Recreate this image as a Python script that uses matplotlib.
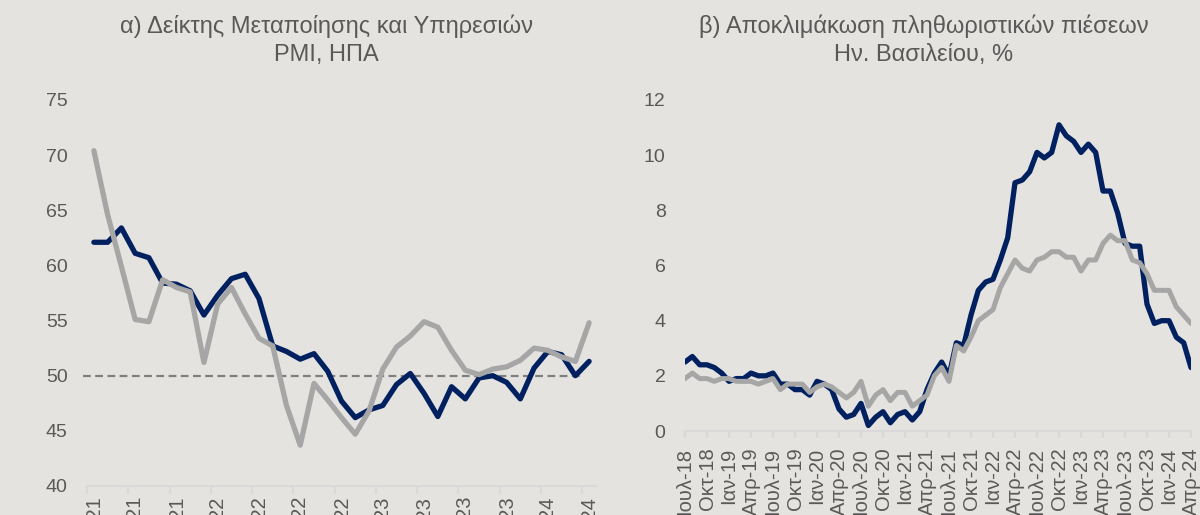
import numpy as np
import matplotlib.pyplot as plt

plt.rcParams['font.family'] = ['Liberation Sans', 'DejaVu Sans']

# α) PMI ΗΠΑ, μηνιαία Μαϊ-21 .. Μαϊ-24
pmi_manuf = [62.1, 62.1, 63.4, 61.1, 60.7, 58.4, 58.3, 57.7, 55.5, 57.3, 58.8, 59.2,
             57.0, 52.7, 52.2, 51.5, 52.0, 50.4, 47.7, 46.2, 46.9, 47.3, 49.2, 50.2,
             48.4, 46.3, 49.0, 47.9, 49.8, 50.0, 49.4, 47.9, 50.7, 52.2, 51.9, 50.0, 51.3]
pmi_services = [70.4, 64.6, 59.9, 55.1, 54.9, 58.7, 58.0, 57.6, 51.2, 56.5, 58.0, 55.6,
                53.4, 52.7, 47.3, 43.7, 49.3, 47.8, 46.2, 44.7, 46.8, 50.6, 52.6, 53.6,
                54.9, 54.4, 52.3, 50.5, 50.1, 50.6, 50.8, 51.4, 52.5, 52.3, 51.7, 51.3, 54.8]
pmi_labels = ['Μαϊ-21', 'Αυγ-21', 'Νοε-21', 'Φεβ-22', 'Μαϊ-22', 'Αυγ-22', 'Νοε-22',
              'Φεβ-23', 'Μαϊ-23', 'Αυγ-23', 'Νοε-23', 'Φεβ-24', 'Μαϊ-24']
pmi_threshold = 50

# β) πληθωρισμός Ην. Βασιλείου, μηνιαία Ιουλ-18 .. Απρ-24
cpi_headline = [2.5, 2.7, 2.4, 2.4, 2.3, 2.1,
                1.8, 1.9, 1.9, 2.1, 2.0, 2.0, 2.1, 1.7, 1.7, 1.5, 1.5, 1.3,
                1.8, 1.7, 1.5, 0.8, 0.5, 0.6, 1.0, 0.2, 0.5, 0.7, 0.3, 0.6,
                0.7, 0.4, 0.7, 1.5, 2.1, 2.5, 2.0, 3.2, 3.1, 4.2, 5.1, 5.4,
                5.5, 6.2, 7.0, 9.0, 9.1, 9.4, 10.1, 9.9, 10.1, 11.1, 10.7, 10.5,
                10.1, 10.4, 10.1, 8.7, 8.7, 7.9, 6.8, 6.7, 6.7, 4.6, 3.9, 4.0,
                4.0, 3.4, 3.2, 2.3]
cpi_core = [1.9, 2.1, 1.9, 1.9, 1.8, 1.9,
            1.9, 1.8, 1.8, 1.8, 1.7, 1.8, 1.9, 1.5, 1.7, 1.7, 1.7, 1.4,
            1.6, 1.7, 1.6, 1.4, 1.2, 1.4, 1.8, 0.9, 1.3, 1.5, 1.1, 1.4,
            1.4, 0.9, 1.1, 1.3, 2.0, 2.3, 1.8, 3.1, 2.9, 3.4, 4.0, 4.2,
            4.4, 5.2, 5.7, 6.2, 5.9, 5.8, 6.2, 6.3, 6.5, 6.5, 6.3, 6.3,
            5.8, 6.2, 6.2, 6.8, 7.1, 6.9, 6.9, 6.2, 6.1, 5.7, 5.1, 5.1,
            5.1, 4.5, 4.2, 3.9]
cpi_labels = ['Ιουλ-18', 'Οκτ-18', 'Ιαν-19', 'Απρ-19', 'Ιουλ-19', 'Οκτ-19',
              'Ιαν-20', 'Απρ-20', 'Ιουλ-20', 'Οκτ-20', 'Ιαν-21', 'Απρ-21',
              'Ιουλ-21', 'Οκτ-21', 'Ιαν-22', 'Απρ-22', 'Ιουλ-22', 'Οκτ-22',
              'Ιαν-23', 'Απρ-23', 'Ιουλ-23', 'Οκτ-23', 'Ιαν-24', 'Απρ-24']

bg = '#e4e3df'
navy = '#002060'
grey = '#a6a6a6'
txt = '#595959'
axis_col = '#d9d9d9'

W, H = 1200, 515
fig = plt.figure(figsize=(W / 100, H / 100), dpi=100, facecolor=bg)

# ---- α) PMI
ax1 = fig.add_axes([87 / W, 1 - 486 / H, 509 / W, 386 / H])
ax1.set_facecolor(bg)
x1 = np.arange(len(pmi_manuf))
ax1.hlines(pmi_threshold, -0.8, 35.5, colors='#7f7f7f', linestyles=(0, (3.5, 2)),
           linewidth=1.6, clip_on=False, zorder=1)
ax1.plot(x1, pmi_manuf, color=navy, lw=3.8, solid_joinstyle='round',
         solid_capstyle='round', zorder=3)
ax1.plot(x1, pmi_services, color=grey, lw=3.8, solid_joinstyle='round',
         solid_capstyle='round', zorder=4)
ax1.set_xlim(-0.5, len(pmi_manuf) - 0.5)
ax1.set_ylim(40, 75)
ax1.set_yticks(np.arange(40, 76, 5))
ax1.set_xticks(x1[::3])
ax1.set_xticklabels(pmi_labels, rotation=90)
ax1.set_xticks(x1[::3] - 0.5, minor=True)
ax1.tick_params(axis='x', which='major', length=0, pad=7, labelsize=14.5, labelcolor=txt)
ax1.tick_params(axis='x', which='minor', length=6, width=1.5, color=axis_col)
ax1.tick_params(axis='y', length=0, pad=14, labelsize=14, labelcolor=txt)

# ---- β) UK inflation
ax2 = fig.add_axes([685 / W, 1 - 431 / H, 506 / W, 331 / H])
ax2.set_facecolor(bg)
x2 = np.arange(len(cpi_headline))
ax2.plot(x2, cpi_headline, color=navy, lw=3.8, solid_joinstyle='round',
         solid_capstyle='round', zorder=3)
ax2.plot(x2, cpi_core, color=grey, lw=3.6, solid_joinstyle='round',
         solid_capstyle='round', zorder=4)
ax2.set_xlim(0, len(cpi_headline) - 1)
ax2.set_ylim(0, 12)
ax2.set_yticks(np.arange(0, 13, 2))
ax2.set_xticks(x2[::3])
ax2.set_xticklabels(cpi_labels, rotation=90)
ax2.tick_params(axis='x', length=5, width=1.5, color=axis_col, pad=7,
                labelsize=14.5, labelcolor=txt)
ax2.tick_params(axis='y', length=0, pad=14, labelsize=14, labelcolor=txt)

for ax in (ax1, ax2):
    for s in ('top', 'left', 'right'):
        ax.spines[s].set_visible(False)
    ax.spines['bottom'].set_color(axis_col)
    ax.spines['bottom'].set_linewidth(1.5)

fig.text(326 / W, 1 - 15 / H, 'α) Δείκτης Μεταποίησης και Υπηρεσιών\nPMI, ΗΠΑ',
         ha='center', va='top', fontsize=17, color=txt, linespacing=1.3)
fig.text(924 / W, 1 - 15 / H, 'β) Αποκλιμάκωση πληθωριστικών πιέσεων\nΗν. Βασιλείου, %',
         ha='center', va='top', fontsize=17, color=txt, linespacing=1.3)

fig.savefig('out.png', dpi=100, facecolor=bg)
